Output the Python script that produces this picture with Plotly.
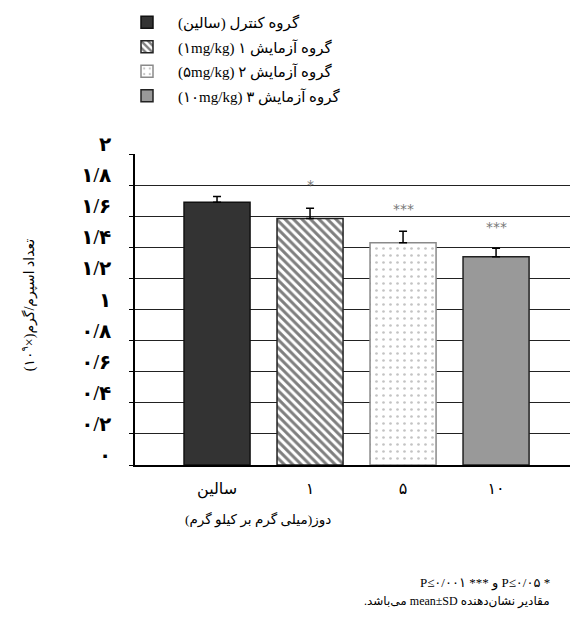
import plotly.graph_objects as go

# ---- data ----
categories = ["سالین", "۱", "۵", "۱۰"]
means = [1.69, 1.585, 1.43, 1.34]
sds = [0.037, 0.067, 0.073, 0.054]
legend_names = [
    "گروه کنترل (سالین)",
    "گروه آزمایش ۱ (۱mg/kg)",
    "گروه آزمایش ۲ (۵mg/kg)",
    "گروه آزمایش ۳ (۱۰mg/kg)",
]
sig_labels = ["", "*", "***", "***"]
sig_y = [None, 1.80, 1.648, 1.528]
y_tickvals = [0, 0.2, 0.4, 0.6, 0.8, 1.0, 1.2, 1.4, 1.6, 1.8, 2.0]
y_ticktext = ["۰", "۰/۲", "۰/۴", "۰/۶", "۰/۸", "۱", "۱/۲", "۱/۴", "۱/۶", "۱/۸", "۲"]

RLE, LRE, PDF = "\u202B", "\u202A", "\u202C"
FONT = "Liberation Serif, DejaVu Sans"

fills = ["#333333", "white", "white", "#999999"]
lines = ["#111111", "#222222", "#8a8a8a", "#222222"]
patterns = [
    dict(shape=""),
    dict(shape="\\", fgcolor="black", bgcolor="white", size=6, solidity=0.5),
    dict(shape=".", fgcolor="#888888", bgcolor="white", size=7, solidity=0.12),
    dict(shape=""),
]

fig = go.Figure()
for i in range(len(categories)):
    fig.add_trace(go.Bar(
        x=[categories[i]], y=[means[i]],
        name=RLE + legend_names[i] + PDF,
        legendgroup=f"g{i}",
        marker=dict(color=fills[i], line=dict(color=lines[i], width=1.5),
                    pattern=patterns[i]),
        error_y=dict(type="data", array=[sds[i]], arrayminus=[0], symmetric=False,
                     color="black", thickness=1.5, width=4),
    ))

for i in range(len(categories)):
    if sig_labels[i]:
        fig.add_annotation(x=categories[i], y=sig_y[i], text=sig_labels[i],
                           showarrow=False, xanchor="center",
                           font=dict(size=14, color="#777777", family="DejaVu Sans"))

# axis titles and notes
fig.add_annotation(xref="paper", yref="paper", x=(28 - 135) / 435, y=0.514,
                   xanchor="center", yanchor="middle",
                   text=RLE + "تعداد اسپرم/گرم(×۱۰<sup>۹</sup>)" + PDF,
                   textangle=-90, showarrow=False,
                   font=dict(size=14, family=FONT, color="black"))
fig.add_annotation(xref="paper", yref="paper", x=(258 - 135) / 435, y=(465 - 519) / 311,
                   xanchor="center", yanchor="middle",
                   text=RLE + "دوز(میلی گرم بر کیلو گرم)" + PDF, showarrow=False,
                   font=dict(size=13.5, family=FONT, color="black"))
fig.add_annotation(xref="paper", yref="paper", x=(552 - 135) / 435, y=(465 - 583) / 311,
                   xanchor="right", yanchor="middle",
                   text=RLE + "* " + LRE + "P≤۰/۰۵" + PDF + " و *** " + LRE + "P≤۰/۰۰۱" + PDF + PDF,
                   showarrow=False, font=dict(size=13, family=FONT, color="black"))
fig.add_annotation(xref="paper", yref="paper", x=(552 - 135) / 435, y=(465 - 601) / 311,
                   xanchor="right", yanchor="middle",
                   text=RLE + "مقادیر نشان‌دهنده mean±SD می‌باشد." + PDF,
                   showarrow=False, font=dict(size=12, family=FONT, color="black"))

fig.update_layout(
    width=570, height=623,
    margin=dict(l=135, r=0, t=154, b=158, autoexpand=False),
    paper_bgcolor="white", plot_bgcolor="white",
    barmode="overlay", bargap=0.29,
    showlegend=True,
    legend=dict(xref="container", yref="container", x=116 / 570, y=1 - 6 / 623,
                xanchor="left", yanchor="top", itemwidth=52, tracegroupgap=2,
                font=dict(size=15, family=FONT, color="black"),
                bgcolor="rgba(0,0,0,0)"),
    xaxis=dict(range=[-0.882, 3.795], showline=True, linecolor="black", linewidth=1.5,
               ticks="", showgrid=False, ticklabelstandoff=8,
               tickfont=dict(size=16, family=FONT, color="black")),
    yaxis=dict(range=[0, 2.0005], tickvals=y_tickvals,
               ticktext=["<b>" + t + "</b>" for t in y_ticktext],
               showline=True, linecolor="black", linewidth=1.5,
               ticks="outside", ticklen=4, tickcolor="black",
               showgrid=True, gridcolor="#222222", gridwidth=1, zeroline=False,
               ticklabelshift=-10, ticklabelstandoff=14,
               tickfont=dict(size=20, family=FONT, color="black")),
)

fig.write_html("out.html")
